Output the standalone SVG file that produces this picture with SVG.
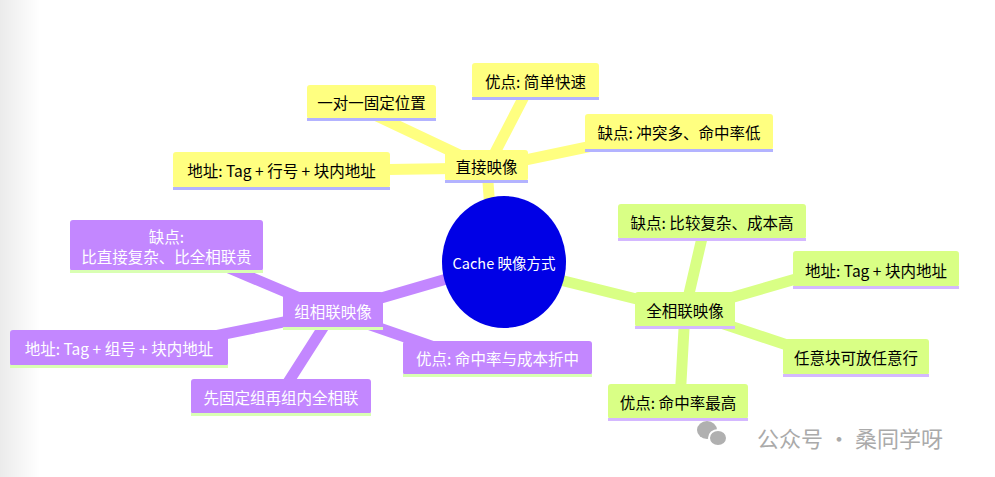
<svg xmlns="http://www.w3.org/2000/svg" width="995" height="477" viewBox="0 0 995 477">
<defs>
<linearGradient id="sh" x1="0" x2="1" y1="0" y2="0"><stop offset="0" stop-color="#ebebeb"/><stop offset="1" stop-color="#ffffff"/></linearGradient>
</defs>
<style>
text{font-family:"Noto Sans CJK SC","Liberation Sans",sans-serif;font-size:15.5px;text-anchor:middle;dominant-baseline:central}
.y rect.b{fill:#ffff80}.y rect.u{fill:#b3b3ff}
.p rect.b{fill:#c387ff}.p rect.u{fill:#d9ffb3}.p text{fill:#fff}
.g rect.b{fill:#d9ff85}.g rect.u{fill:#d4b8ff}
.cy{stroke:#ffff80}.cp{stroke:#c387ff}.cg{stroke:#d9ff85}
#conn line{stroke-width:11;stroke-linecap:round}
#wm text{font-size:22px;fill:#aaaaaa}
</style>
<rect width="995" height="477" fill="#fff"/>
<rect width="40" height="477" fill="url(#sh)"/>
<g id="conn">
<line class="cy" x1="490" y1="210" x2="487" y2="168"/>
<line class="cy" x1="487" y1="168" x2="360" y2="108"/>
<line class="cy" x1="487" y1="168" x2="530" y2="85"/>
<line class="cy" x1="487" y1="168" x2="640" y2="136"/>
<line class="cy" x1="487" y1="168" x2="290" y2="171"/>
<line class="cp" x1="450" y1="278" x2="333" y2="312"/>
<line class="cp" x1="333" y1="312" x2="210" y2="260"/>
<line class="cp" x1="333" y1="312" x2="170" y2="345"/>
<line class="cp" x1="333" y1="312" x2="280" y2="395"/>
<line class="cp" x1="333" y1="312" x2="460" y2="356"/>
<line class="cg" x1="560" y1="280" x2="685" y2="311"/>
<line class="cg" x1="685" y1="311" x2="705" y2="225"/>
<line class="cg" x1="685" y1="311" x2="820" y2="272"/>
<line class="cg" x1="685" y1="311" x2="820" y2="356"/>
<line class="cg" x1="685" y1="311" x2="680" y2="400"/>
</g>
<g id="center"><ellipse cx="504" cy="262" rx="62" ry="66" fill="#0000e6"/><text x="504" y="262" fill="#fff" style="font-size:14.5px">Cache 映像方式</text></g>
<g id="direct" class="y"><rect class="b" x="445" y="150" width="83" height="31" rx="3"/><rect class="u" x="445" y="180" width="83" height="3"/><text x="486.5" y="166">直接映像</text></g>
<g id="d1" class="y"><rect class="b" x="307" y="85" width="129" height="34" rx="3"/><rect class="u" x="307" y="118" width="129" height="3"/><text x="371.5" y="102">一对一固定位置</text></g>
<g id="d2" class="y"><rect class="b" x="472" y="63" width="127" height="35" rx="3"/><rect class="u" x="472" y="97" width="127" height="3"/><text x="535.5" y="81">优点: 简单快速</text></g>
<g id="d3" class="y"><rect class="b" x="585" y="114" width="188" height="36" rx="3"/><rect class="u" x="585" y="149" width="188" height="3"/><text x="679" y="132">缺点: 冲突多、命中率低</text></g>
<g id="d4" class="y"><rect class="b" x="173" y="152" width="217" height="36" rx="3"/><rect class="u" x="173" y="187" width="217" height="3"/><text x="281.5" y="170">地址: Tag + 行号 + 块内地址</text></g>
<g id="set" class="p"><rect class="b" x="283" y="292" width="100" height="36" rx="3"/><rect class="u" x="283" y="327" width="100" height="3"/><text x="333" y="311">组相联映像</text></g>
<g id="s1" class="p"><rect class="b" x="70" y="220" width="193" height="51" rx="3"/><rect class="u" x="70" y="270" width="193" height="3"/><text x="166.5" y="236">缺点:</text><text x="166.5" y="256">比直接复杂、比全相联贵</text></g>
<g id="s2" class="p"><rect class="b" x="10" y="330" width="218" height="36" rx="3"/><rect class="u" x="10" y="365" width="218" height="3"/><text x="119" y="348">地址: Tag + 组号 + 块内地址</text></g>
<g id="s3" class="p"><rect class="b" x="191" y="379" width="180" height="35" rx="3"/><rect class="u" x="191" y="413" width="180" height="3"/><text x="281" y="397">先固定组再组内全相联</text></g>
<g id="s4" class="p"><rect class="b" x="403" y="341" width="189" height="34" rx="3"/><rect class="u" x="403" y="374" width="189" height="3"/><text x="497.5" y="358">优点: 命中率与成本折中</text></g>
<g id="full" class="g"><rect class="b" x="635" y="292" width="100" height="35" rx="3"/><rect class="u" x="635" y="326" width="100" height="3"/><text x="685" y="310">全相联映像</text></g>
<g id="f1" class="g"><rect class="b" x="618" y="204" width="188" height="35" rx="3"/><rect class="u" x="618" y="238" width="188" height="3"/><text x="712" y="222">缺点: 比较复杂、成本高</text></g>
<g id="f2" class="g"><rect class="b" x="793" y="251" width="166" height="36" rx="3"/><rect class="u" x="793" y="286" width="166" height="3"/><text x="876" y="270">地址: Tag + 块内地址</text></g>
<g id="f3" class="g"><rect class="b" x="783" y="339" width="146" height="36" rx="3"/><rect class="u" x="783" y="374" width="146" height="3"/><text x="856" y="357">任意块可放任意行</text></g>
<g id="f4" class="g"><rect class="b" x="608" y="384" width="140" height="35" rx="3"/><rect class="u" x="608" y="418" width="140" height="3"/><text x="678" y="402">优点: 命中率最高</text></g>
<g id="wm" fill="#b0b0b0"><ellipse cx="707" cy="430" rx="10" ry="9"/><ellipse cx="718" cy="438" rx="9" ry="8" stroke="#fff" stroke-width="2"/><text x="850" y="437">公众号 · 桑同学呀</text></g>
</svg>
